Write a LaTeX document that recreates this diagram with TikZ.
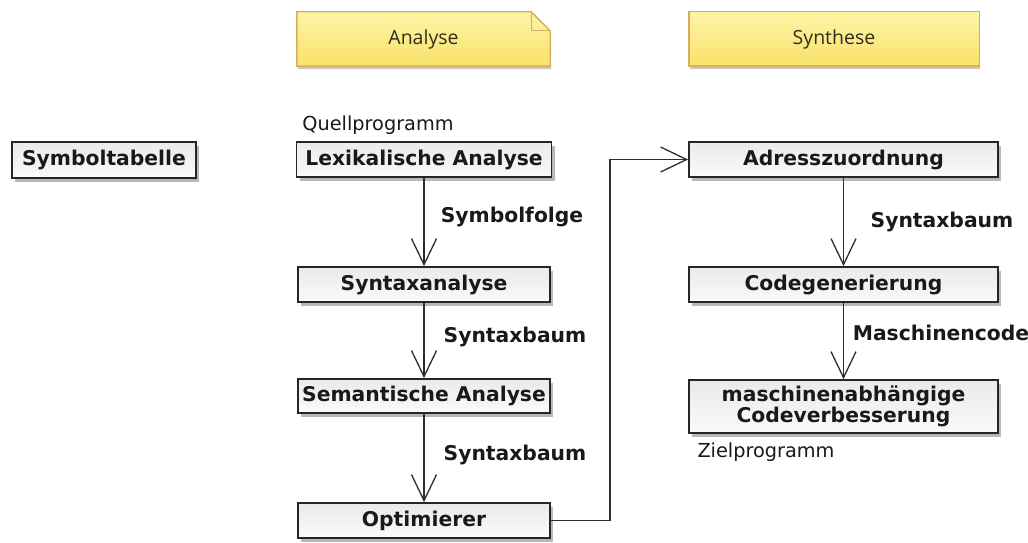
\documentclass[tikz,border=0pt]{standalone}
\usepackage{fontspec}
\setmainfont{DejaVu Sans}
\newfontfamily\notefont{Open Sans}
\usetikzlibrary{arrows.meta,shadows}
\definecolor{boxline}{RGB}{38,38,38}
\definecolor{boxtop}{RGB}{234,234,234}
\definecolor{boxbot}{RGB}{250,250,250}
\definecolor{notetop}{RGB}{253,244,168}
\definecolor{notebot}{RGB}{250,225,105}
\definecolor{noteline}{RGB}{214,174,96}
\definecolor{txt}{RGB}{25,25,25}
\definecolor{conncol}{RGB}{45,45,45}
\begin{document}
\begin{tikzpicture}[x=1pt,y=-1pt,
  stagebox/.style={draw=boxline, line width=1.8pt, top color=boxtop, bottom color=boxbot,
    font=\fontsize{20.3}{19}\selectfont\bfseries, text=txt, inner sep=0pt, align=center,
    drop shadow={shadow xshift=3pt, shadow yshift=-3.5pt, opacity=0.28, fill=black}},
  notebox/.style={inner sep=0pt, minimum height=54pt},
  notepath/.style={draw=noteline, line width=1.4pt, top color=notetop, bottom color=notebot,
    drop shadow={shadow xshift=1pt, shadow yshift=-3pt, opacity=0.22, fill=black}},
  notetext/.style={font=\notefont\fontsize{19.5}{22}\selectfont, text={rgb,255:red,50;green,45;blue,30}},
  flowlabel/.style={font=\fontsize{20.3}{22}\selectfont\bfseries, text=txt, inner sep=0pt},
  iolabel/.style={font=\fontsize{19.3}{22}\selectfont, text=txt, inner sep=0pt},
  conn/.style={draw=conncol, line width=1.3pt, -{Straight Barb[length=26pt,width=25pt,line width=1.3pt]}}
]
\fill[white] (0,0) rectangle (1028,543);
\useasboundingbox (0,0) rectangle (1028,543);

% notes
\node[notebox, minimum width=253pt] (ana) at (423.5,39) {};
\path[notepath] (ana.south west) -- (ana.north west) -- ([xshift=-19pt]ana.north east)
  -- ([yshift=-19pt]ana.north east) -- (ana.south east) -- cycle;
\draw[noteline, line width=1.2pt] ([xshift=-19pt]ana.north east) -- ([xshift=-19pt,yshift=-19pt]ana.north east)
  -- ([yshift=-19pt]ana.north east);
\node[notetext] (anat) at (ana) {Analyse};

\node[notebox, minimum width=290pt] (syh) at (834,39) {};
\path[notepath] (syh.south west) rectangle (syh.north east);
\node[notetext] (syht) at (syh) {Synthese};

% boxes
\node[stagebox, minimum width=184pt, minimum height=36pt] (sym) at (104,160) {Symboltabelle};
\node[stagebox, minimum width=255pt, minimum height=35pt] (lex) at (424,159.5) {Lexikalische Analyse};
\node[stagebox, minimum width=252pt, minimum height=35pt] (syn) at (424,284.5) {Syntaxanalyse};
\node[stagebox, minimum width=252pt, minimum height=34pt] (sem) at (424,396) {Semantische Analyse};
\node[stagebox, minimum width=252pt, minimum height=35pt] (opt) at (424,520.5) {Optimierer};
\node[stagebox, minimum width=309pt, minimum height=35pt] (adr) at (843.5,159.5) {Adresszuordnung};
\node[stagebox, minimum width=309pt, minimum height=35pt] (cod) at (843.5,284.5) {Codegenerierung};
\node[stagebox, minimum width=309pt, minimum height=53pt] (mas) at (843.5,406.5) {maschinenabhängige\\Codeverbesserung};

% io labels
\node[iolabel] (quell) at (378,125) {Quellprogramm};
\node[iolabel] (ziel) at (766,452) {Zielprogramm};

% connectors
\draw[conn] (lex.south) -- (syn.north);
\draw[conn] (syn.south) -- (sem.north);
\draw[conn] (sem.south) -- (opt.north);
\draw[conn] (adr.south) -- (cod.north);
\draw[conn] (cod.south) -- (mas.north);
\coordinate (bend) at (610,0);
\draw[conn] (opt.east) -- (opt.east -| bend) |- (adr.west);

% connector labels
\node[flowlabel] (l1) at (512,217) {Symbolfolge};
\node[flowlabel] (l2) at (515,337) {Syntaxbaum};
\node[flowlabel] (l3) at (515,455) {Syntaxbaum};
\node[flowlabel] (l4) at (942,222) {Syntaxbaum};
\node[flowlabel] (l5) at (941,333) {Maschinencode};
\end{tikzpicture}
\end{document}
